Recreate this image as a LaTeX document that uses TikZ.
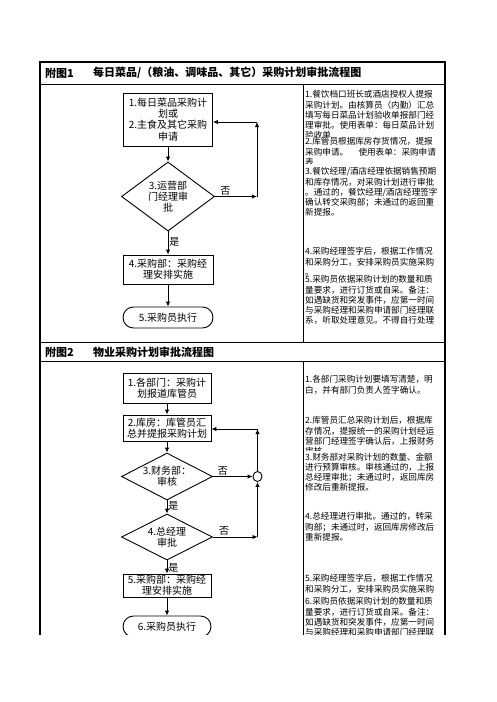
\documentclass[tikz,border=0pt]{standalone}
\usepackage{fontspec}
\newfontfamily\cjk{Noto Sans CJK SC}
\usetikzlibrary{arrows.meta,shapes.geometric,shapes.misc}

\tikzset{
  flowbox/.style={draw, line width=0.9pt, inner sep=0pt, align=center,
    font=\cjk\fontsize{10}{11.3}\selectfont},
  procbox/.style={flowbox, rectangle},
  decision/.style={flowbox, diamond},
  terminal/.style={flowbox, rounded rectangle},
  flowarrow/.style={line width=0.9pt, -{Latex[length=5pt,width=4.5pt]}},
  yesno/.style={font=\cjk\fontsize{10}{11}\selectfont, inner sep=1pt},
  note/.style={anchor=north west, inner sep=0pt, align=left,
    font=\cjk\fontsize{8.6}{10.2}\selectfont},
  titletext/.style={anchor=west, inner sep=0pt,
    font=\cjk\bfseries\fontsize{11}{12}\selectfont},
  frame/.style={line width=1.1pt},
  grid/.style={line width=0.8pt},
}

\begin{document}
\begin{tikzpicture}[x=1pt,y=-1pt]
    \useasboundingbox[fill=white] (0,0) rectangle (496,702);
    \begin{scope}
    \clip (0,0) rectangle (496,634);
    % table frame
    \draw[frame] (40,700) -- (40,62) -- (445,62) -- (445,700);
    \draw[grid] (40,84) -- (445,84);
    \draw[grid] (40,342) -- (445,342);
    \draw[grid] (40,361) -- (445,361);
    \draw[grid] (303,84) -- (303,342);
    \draw[grid] (303,361) -- (303,700);
    % titles
    \node[titletext] (t1a) at (45,73) {附图1};
    \node[titletext] (t1b) at (93,73) {每日菜品/（粮油、调味品、其它）采购计划审批流程图};
    \node[titletext] (t2a) at (45,352) {附图2};
    \node[titletext] (t2b) at (93,352) {物业采购计划审批流程图};

    % notes, part 1
    \begin{scope}
      \clip (304,85) rectangle (444,136);
      \node[note] (s1n1) at (305,90.5) {1.餐饮档口班长或酒店授权人提报\\采购计划。由核算员（内勤）汇总\\填写每日菜品计划验收单报部门经\\理审批。使用表单：每日菜品计划\\验收单};
    \end{scope}
    \begin{scope}
      \clip (304,137) rectangle (444,163);
      \node[note] (s1n2) at (305,137.5) {2.库管员根据库房存货情况，提报\\采购申请。\hspace{1.2em}使用表单：采购申请\\表};
    \end{scope}
    \node[note] (s1n3) at (305,167.5) {3.餐饮经理/酒店经理依据销售预期\\和库存情况，对采购计划进行审批\\。通过的，餐饮经理/酒店经理签字\\确认转交采购部；未通过的返回重\\新提报。};
    \node[note] (s1n4) at (305,247.5) {4.采购经理签字后，根据工作情况\\和采购分工，安排采购员实施采购\\。};
    \node[note] (s1n5) at (305,275.5) {5.采购员依据采购计划的数量和质\\量要求，进行订货或自采。备注：\\如遇缺货和突发事件，应第一时间\\与采购经理和采购申请部门经理联\\系，听取处理意见。不得自行处理};

    % notes, part 2
    \node[note] (s2n1) at (305,375.5) {1.各部门采购计划要填写清楚，明\\白，并有部门负责人签字确认。};
    \begin{scope}
      \clip (304,410) rectangle (444,450.5);
      \node[note] (s2n2) at (305,416.5) {2.库管员汇总采购计划后，根据库\\存情况，提报统一的采购计划经运\\营部门经理签字确认后，上报财务\\审核};
    \end{scope}
    \node[note] (s2n3) at (305,452.5) {3.财务部对采购计划的数量、金额\\进行预算审核。审核通过的，上报\\总经理审批；未通过时，返回库房\\修改后重新提报。};
    \node[note] (s2n4) at (305,512.5) {4.总经理进行审批。通过的，转采\\购部；未通过时，返回库房修改后\\重新提报。};
    \node[note] (s2n5) at (305,574.5) {5.采购经理签字后，根据工作情况\\和采购分工，安排采购员实施采购};
    \node[note] (s2n6) at (305,597.5) {6.采购员依据采购计划的数量和质\\量要求，进行订货或自采。备注：\\如遇缺货和突发事件，应第一时间\\与采购经理和采购申请部门经理联};

    % flow chart 1
    \node[procbox, minimum width=89, minimum height=53] (a1) at (168,119.5) {1.每日菜品采购计\\划或\\2.主食及其它采购\\申请};
    \node[decision, shape aspect=1.35, minimum width=93, minimum height=69] (a3) at (168,196.5) {3.运营部\\门经理审\\批};
    \node[procbox, minimum width=90, minimum height=29] (a4) at (168,269.5) {4.采购部：采购经\\理安排实施};
    \node[terminal, minimum width=90, minimum height=21] (a5) at (168,317.5) {5.采购员执行};
    \coordinate (a3r) at (257,196.5);
    \coordinate (a1r) at (257,122);
    \draw[flowarrow] (a1) -- (a3);
    \draw[flowarrow] (a3) -- node[yesno, right, pos=0.45] {是} (a4);
    \draw[flowarrow] (a4) -- (a5);
    \draw[flowarrow] (a3) -- node[yesno, above, pos=0.25] {否} (a3r);
    \draw[flowarrow] (a3r) -- (a1r);
    \draw[flowarrow] (a1r) -- (a1r -| a1.east);

    % flow chart 2
    \node[procbox, minimum width=88, minimum height=30] (b1) at (167,388) {1.各部门：采购计\\划报道库管员};
    \node[procbox, minimum width=88, minimum height=26] (b2) at (167,428) {2.库房：库管员汇\\总并提报采购计划};
    \node[decision, shape aspect=1.94, minimum width=91, minimum height=47] (b3) at (167,476.5) {3.财务部：\\审核};
    \node[decision, shape aspect=1.94, minimum width=91, minimum height=46] (b4) at (167,537) {4.总经理\\审批};
    \node[procbox, minimum width=88, minimum height=23] (b5) at (167,585.5) {5.采购部：采购经\\理安排实施};
    \node[terminal, minimum width=88, minimum height=21] (b6) at (167,626.5) {6.采购员执行};
    \node[draw, line width=0.9pt, ellipse, inner sep=0pt, minimum width=9, minimum height=10] (merge) at (257.5,476.5) {};
    \coordinate (b2r) at (257.5,429);
    \coordinate (b4r) at (257.5,537);
    \draw[flowarrow] (b1) -- (b2);
    \draw[flowarrow] (b2) -- (b3);
    \draw[flowarrow] (b3) -- node[yesno, right, pos=0.4] {是} (b4);
    \draw[flowarrow] (b4) -- node[yesno, right, pos=0.55] {是} (b5);
    \draw[flowarrow] (b5) -- (b6);
    \draw[flowarrow] (b3) -- node[yesno, above, pos=0.25] {否} (merge);
    \draw[flowarrow] (merge) -- (b2r);
    \draw[flowarrow] (b2r) -- (b2r -| b2.east);
    \draw[flowarrow] (b4) -- node[yesno, above, pos=0.25] {否} (b4r);
    \draw[flowarrow] (b4r) -- (merge);
    \end{scope}
\end{tikzpicture}
\end{document}
